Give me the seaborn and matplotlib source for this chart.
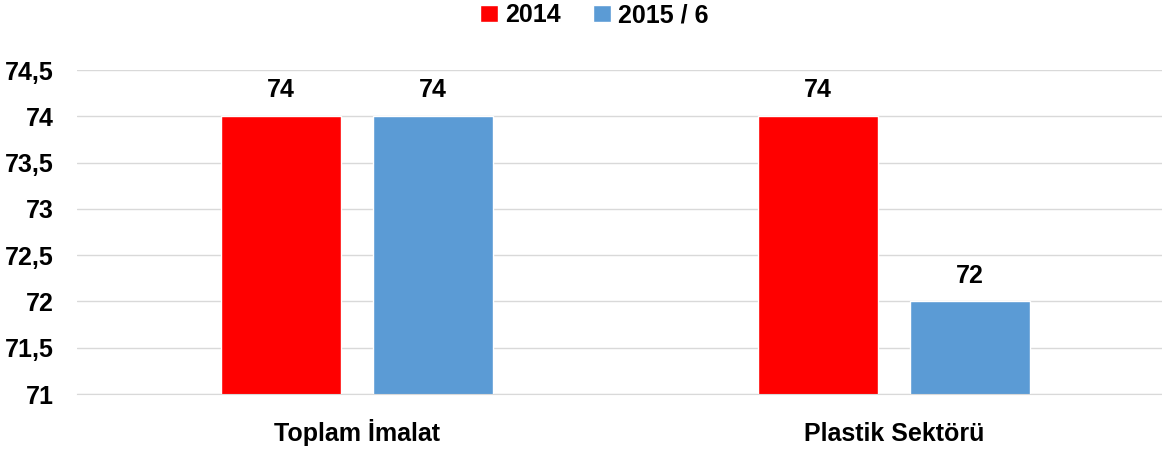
import matplotlib
matplotlib.use("Agg")
import matplotlib.pyplot as plt
import seaborn as sns
import pandas as pd
from matplotlib.ticker import FuncFormatter, MultipleLocator

# chart values
categories = ["Toplam İmalat", "Plastik Sektörü"]
series_names = ["2014", "2015 / 6"]
values_2014 = [74, 74]
values_2015 = [74, 72]
colors = ["#FF0000", "#5B9BD5"]

df = pd.DataFrame({
    "kategori": categories * 2,
    "seri": [series_names[0]] * 2 + [series_names[1]] * 2,
    "deger": values_2014 + values_2015,
})

sns.set_style("white")
plt.rcParams["font.family"] = ["Liberation Sans", "DejaVu Sans"]
plt.rcParams["font.weight"] = "bold"
plt.rcParams["text.color"] = "black"
plt.rcParams["xtick.color"] = "black"
plt.rcParams["ytick.color"] = "black"

fig = plt.figure(figsize=(11.62, 4.54), dpi=100)
ax = fig.add_axes([77 / 1162, 60 / 454, 1085 / 1162, 324 / 454])

sns.barplot(data=df, x="kategori", y="deger", hue="seri", palette=colors,
            saturation=1, width=0.566, gap=0.21, ax=ax, legend=True)

ax.set_ylim(71, 74.5)
ax.set_xlim(-0.521, 1.499)
ax.yaxis.set_major_locator(MultipleLocator(0.5))
ax.yaxis.set_major_formatter(FuncFormatter(lambda v, p: f"{v:g}".replace(".", ",")))
ax.grid(axis="y", color="#D9D9D9", linewidth=1)
ax.set_axisbelow(True)
for s in ["top", "right", "left"]:
    ax.spines[s].set_visible(False)
ax.spines["bottom"].set_color("#D9D9D9")
ax.tick_params(axis="y", length=0, pad=17, labelsize=18)
ax.tick_params(axis="x", length=0, pad=34, labelsize=18)
ax.set_xlabel("")
ax.set_ylabel("")
for lab in ax.get_xticklabels():
    lab.set_fontweight("bold")
    lab.set_verticalalignment("baseline")
for lab in ax.get_yticklabels():
    lab.set_fontweight("bold")

for cont in ax.containers:
    ax.bar_label(cont, fmt="%g", padding=10, fontsize=18, fontweight="bold")

ax.legend(loc="upper center", bbox_to_anchor=(0.477, 1.276), ncol=2,
          frameon=False, fontsize=18, handlelength=0.7, handleheight=0.7,
          handletextpad=0.3, columnspacing=1.3)
for t in ax.get_legend().get_texts():
    t.set_fontweight("bold")

fig.savefig("out.png", dpi=100)
